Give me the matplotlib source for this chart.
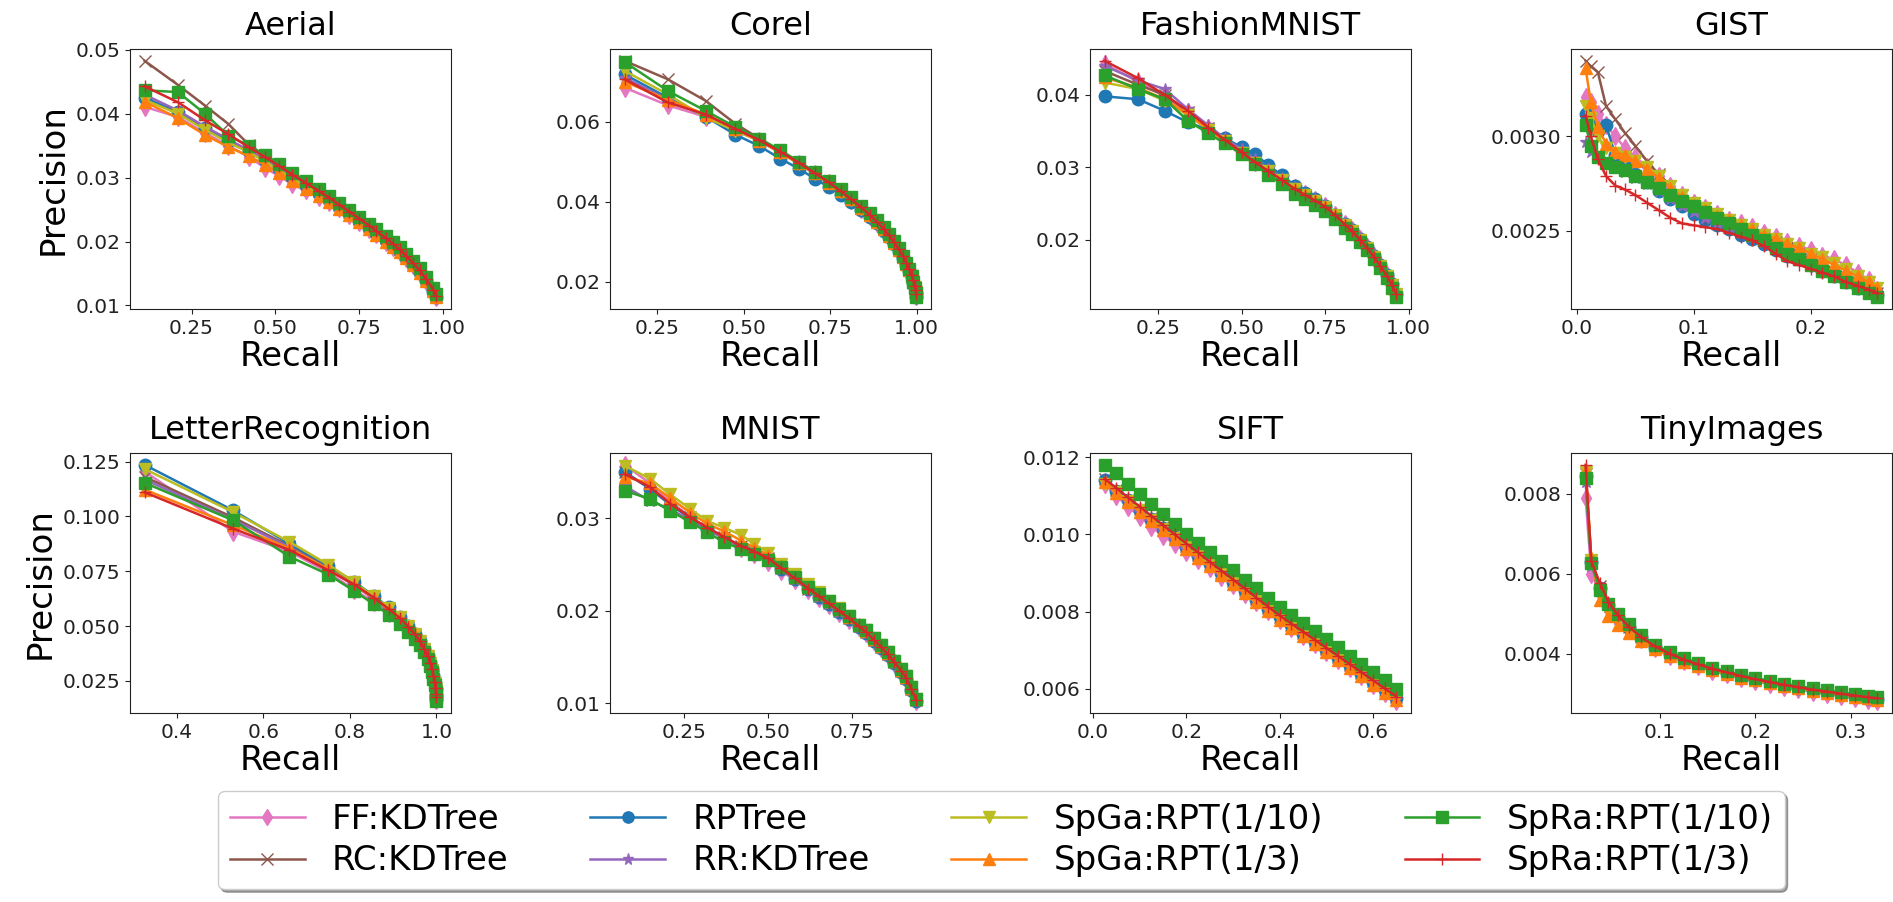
import matplotlib
matplotlib.use('Agg')
import matplotlib.pyplot as plt

plt.rcParams['font.family'] = ['DejaVu Sans']

# ---------------- legend / styling data ----------------
methods = ['FF:KDTree', 'RC:KDTree', 'RPTree', 'RR:KDTree',
           'SpGa:RPT(1/10)', 'SpGa:RPT(1/3)', 'SpRa:RPT(1/10)', 'SpRa:RPT(1/3)']
colors = ['#e377c2', '#8c564b', '#1f77b4', '#9467bd',
          '#bcbd22', '#ff7f0e', '#2ca02c', '#d62728']
markers = ['d', 'x', 'o', '*', 'v', '^', 's', '+']

# ---------------- Aerial ----------------
aerial_recall = [0.11, 0.21, 0.29, 0.36, 0.42, 0.47, 0.51, 0.55, 0.59, 0.63, 0.66, 0.69, 0.72,
                 0.75, 0.78, 0.80, 0.83, 0.85, 0.87, 0.89, 0.91, 0.93, 0.95, 0.97, 0.98]
aerial_ff = [0.0411, 0.0395, 0.0370, 0.0350, 0.0333, 0.0315, 0.0303, 0.0290, 0.0280, 0.0270, 0.0262, 0.0252, 0.0242,
             0.0231, 0.0220, 0.0212, 0.0200, 0.0192, 0.0183, 0.0174, 0.0163, 0.0151, 0.0138, 0.0122, 0.0113]
aerial_rc = [0.0483, 0.0445, 0.0413, 0.0384, 0.0352, 0.0334, 0.0319, 0.0305, 0.0292, 0.0279, 0.0269, 0.0258, 0.0247,
             0.0236, 0.0225, 0.0217, 0.0205, 0.0197, 0.0188, 0.0178, 0.0167, 0.0155, 0.0142, 0.0125, 0.0115]
aerial_rpt = [0.0425, 0.0403, 0.0378, 0.0358, 0.0342, 0.0327, 0.0315, 0.0301, 0.0288, 0.0276, 0.0266, 0.0255, 0.0244,
              0.0233, 0.0222, 0.0214, 0.0202, 0.0194, 0.0185, 0.0176, 0.0165, 0.0153, 0.0140, 0.0123, 0.0114]
aerial_rr = [0.0430, 0.0405, 0.0380, 0.0360, 0.0343, 0.0328, 0.0316, 0.0302, 0.0289, 0.0277, 0.0267, 0.0256, 0.0245,
             0.0234, 0.0223, 0.0215, 0.0203, 0.0195, 0.0186, 0.0177, 0.0165, 0.0153, 0.0140, 0.0124, 0.0114]
aerial_spga10 = [0.0422, 0.0400, 0.0375, 0.0355, 0.0340, 0.0325, 0.0312, 0.0299, 0.0287, 0.0275, 0.0265, 0.0254, 0.0243,
                 0.0232, 0.0221, 0.0213, 0.0201, 0.0193, 0.0184, 0.0175, 0.0164, 0.0152, 0.0139, 0.0123, 0.0113]
aerial_spga3 = [0.0419, 0.0393, 0.0367, 0.0348, 0.0334, 0.0320, 0.0308, 0.0295, 0.0283, 0.0271, 0.0262, 0.0251, 0.0241,
                0.0230, 0.0219, 0.0211, 0.0200, 0.0192, 0.0183, 0.0174, 0.0163, 0.0151, 0.0138, 0.0122, 0.0113]
aerial_spra10 = [0.0437, 0.0434, 0.0400, 0.0366, 0.0350, 0.0335, 0.0322, 0.0308, 0.0295, 0.0282, 0.0272, 0.0261, 0.0250,
                 0.0239, 0.0228, 0.0220, 0.0208, 0.0200, 0.0191, 0.0181, 0.0170, 0.0158, 0.0145, 0.0128, 0.0118]
aerial_spra3 = [0.0443, 0.0418, 0.0390, 0.0368, 0.0348, 0.0332, 0.0319, 0.0305, 0.0292, 0.0279, 0.0269, 0.0258, 0.0247,
                0.0236, 0.0225, 0.0217, 0.0205, 0.0197, 0.0188, 0.0178, 0.0167, 0.0155, 0.0141, 0.0125, 0.0115]

# ---------------- Corel ----------------
corel_recall = [0.155, 0.28, 0.39, 0.475, 0.545, 0.605, 0.66, 0.705, 0.745, 0.78, 0.81, 0.84, 0.865,
                0.885, 0.905, 0.92, 0.935, 0.948, 0.96, 0.97, 0.978, 0.985, 0.99, 0.994, 0.997, 0.999]
corel_ff = [0.0685, 0.0641, 0.0612, 0.0578, 0.0552, 0.0523, 0.0495, 0.0470, 0.0447, 0.0425, 0.0404, 0.0382, 0.0364,
            0.0347, 0.0329, 0.0313, 0.0296, 0.0279, 0.0261, 0.0244, 0.0229, 0.0214, 0.0199, 0.0186, 0.0174, 0.0164]
corel_rc = [0.0752, 0.0706, 0.0652, 0.0595, 0.0558, 0.0526, 0.0497, 0.0472, 0.0449, 0.0427, 0.0406, 0.0384, 0.0366,
            0.0349, 0.0331, 0.0315, 0.0298, 0.0281, 0.0263, 0.0246, 0.0231, 0.0216, 0.0201, 0.0188, 0.0176, 0.0166]
corel_rpt = [0.0718, 0.0660, 0.0612, 0.0568, 0.0539, 0.0508, 0.0482, 0.0458, 0.0437, 0.0418, 0.0400, 0.0380, 0.0362,
             0.0346, 0.0328, 0.0312, 0.0295, 0.0278, 0.0260, 0.0243, 0.0228, 0.0213, 0.0198, 0.0185, 0.0173, 0.0163]
corel_rr = [0.0710, 0.0655, 0.0615, 0.0580, 0.0553, 0.0523, 0.0495, 0.0470, 0.0447, 0.0425, 0.0405, 0.0383, 0.0365,
            0.0348, 0.0330, 0.0314, 0.0297, 0.0280, 0.0262, 0.0245, 0.0230, 0.0215, 0.0200, 0.0187, 0.0175, 0.0165]
corel_spga10 = [0.0727, 0.0668, 0.0610, 0.0578, 0.0552, 0.0523, 0.0495, 0.0470, 0.0447, 0.0425, 0.0405, 0.0383, 0.0365,
                0.0348, 0.0330, 0.0314, 0.0297, 0.0280, 0.0262, 0.0245, 0.0230, 0.0215, 0.0200, 0.0187, 0.0175, 0.0165]
corel_spga3 = [0.0700, 0.0655, 0.0618, 0.0582, 0.0553, 0.0524, 0.0496, 0.0471, 0.0448, 0.0426, 0.0406, 0.0384, 0.0366,
               0.0349, 0.0331, 0.0315, 0.0298, 0.0281, 0.0263, 0.0246, 0.0231, 0.0216, 0.0201, 0.0188, 0.0176, 0.0166]
corel_spra10 = [0.0749, 0.0677, 0.0627, 0.0587, 0.0558, 0.0529, 0.0500, 0.0475, 0.0452, 0.0431, 0.0411, 0.0390, 0.0371,
                0.0354, 0.0336, 0.0319, 0.0302, 0.0284, 0.0266, 0.0248, 0.0232, 0.0216, 0.0200, 0.0186, 0.0173, 0.0162]
corel_spra3 = [0.0706, 0.0648, 0.0618, 0.0582, 0.0554, 0.0525, 0.0497, 0.0472, 0.0449, 0.0427, 0.0407, 0.0386, 0.0367,
               0.0350, 0.0332, 0.0316, 0.0299, 0.0282, 0.0265, 0.0248, 0.0233, 0.0218, 0.0204, 0.0191, 0.0179, 0.0170]

# ---------------- FashionMNIST ----------------
fashion_recall = [0.09, 0.19, 0.27, 0.34, 0.40, 0.45, 0.50, 0.54, 0.58, 0.62, 0.66, 0.69,
                  0.72, 0.75, 0.78, 0.81, 0.83, 0.855, 0.875, 0.895, 0.915, 0.935, 0.95, 0.963]
fashion_ff = [0.0443, 0.0418, 0.0398, 0.0376, 0.0355, 0.0338, 0.0322, 0.0308, 0.0296, 0.0284, 0.0271, 0.0263,
              0.0255, 0.0247, 0.0235, 0.0222, 0.0213, 0.0201, 0.0190, 0.0178, 0.0165, 0.0151, 0.0139, 0.0126]
fashion_rc = [0.0433, 0.0414, 0.0400, 0.0377, 0.0355, 0.0338, 0.0321, 0.0307, 0.0295, 0.0283, 0.0270, 0.0262,
              0.0254, 0.0246, 0.0234, 0.0221, 0.0212, 0.0200, 0.0189, 0.0177, 0.0164, 0.0150, 0.0138, 0.0125]
fashion_rpt = [0.0398, 0.0394, 0.0378, 0.0362, 0.0352, 0.0340, 0.0328, 0.0318, 0.0303, 0.0289, 0.0275, 0.0265,
               0.0256, 0.0247, 0.0235, 0.0222, 0.0213, 0.0201, 0.0190, 0.0178, 0.0165, 0.0151, 0.0139, 0.0126]
fashion_rr = [0.0440, 0.0420, 0.0408, 0.0380, 0.0358, 0.0340, 0.0325, 0.0311, 0.0298, 0.0286, 0.0273, 0.0264,
              0.0256, 0.0248, 0.0236, 0.0223, 0.0214, 0.0202, 0.0191, 0.0179, 0.0166, 0.0152, 0.0140, 0.0127]
fashion_spga10 = [0.0417, 0.0408, 0.0392, 0.0372, 0.0352, 0.0336, 0.0320, 0.0306, 0.0295, 0.0283, 0.0270, 0.0262,
                  0.0254, 0.0246, 0.0234, 0.0221, 0.0212, 0.0200, 0.0189, 0.0177, 0.0164, 0.0150, 0.0138, 0.0125]
fashion_spga3 = [0.0424, 0.0410, 0.0394, 0.0373, 0.0353, 0.0336, 0.0320, 0.0306, 0.0294, 0.0282, 0.0269, 0.0261,
                 0.0253, 0.0245, 0.0233, 0.0220, 0.0211, 0.0199, 0.0188, 0.0176, 0.0163, 0.0149, 0.0137, 0.0124]
fashion_spra10 = [0.0427, 0.0408, 0.0394, 0.0364, 0.0347, 0.0333, 0.0318, 0.0304, 0.0290, 0.0277, 0.0264, 0.0256,
                  0.0248, 0.0240, 0.0229, 0.0217, 0.0208, 0.0197, 0.0186, 0.0174, 0.0161, 0.0147, 0.0134, 0.0121]
fashion_spra3 = [0.0447, 0.0423, 0.0400, 0.0378, 0.0355, 0.0338, 0.0321, 0.0307, 0.0295, 0.0283, 0.0270, 0.0262,
                 0.0254, 0.0246, 0.0234, 0.0221, 0.0212, 0.0200, 0.0189, 0.0177, 0.0164, 0.0150, 0.0138, 0.0125]

# ---------------- GIST ----------------
gist_recall = [0.0075, 0.012, 0.018, 0.025, 0.033, 0.041, 0.05, 0.06, 0.07, 0.08, 0.09, 0.10, 0.11, 0.12,
               0.13, 0.14, 0.15, 0.16, 0.17, 0.18, 0.19, 0.20, 0.21, 0.22, 0.23, 0.24, 0.25, 0.257]
gist_ff = [0.00321, 0.00318, 0.00312, 0.00306, 0.00300, 0.00294, 0.00289, 0.00284, 0.00279, 0.00274, 0.00269, 0.00265,
           0.00262, 0.00259, 0.00256, 0.00254, 0.00252, 0.00249, 0.00247, 0.00244, 0.00242, 0.00240, 0.00237, 0.00235,
           0.00232, 0.00228, 0.00224, 0.00219]
gist_rc = [0.00340, 0.00337, 0.00334, 0.00316, 0.00309, 0.00302, 0.00295, 0.00287, 0.00280, 0.00274, 0.00269, 0.00265,
           0.00262, 0.00259, 0.00256, 0.00253, 0.00250, 0.00247, 0.00244, 0.00241, 0.00238, 0.00235, 0.00232, 0.00229,
           0.00226, 0.00223, 0.00220, 0.00217]
gist_rpt = [0.00312, 0.00306, 0.00303, 0.00306, 0.00290, 0.00285, 0.00280, 0.00276, 0.00271, 0.00267, 0.00263, 0.00259,
            0.00256, 0.00253, 0.00251, 0.00248, 0.00246, 0.00243, 0.00240, 0.00237, 0.00235, 0.00232, 0.00229, 0.00226,
            0.00223, 0.00220, 0.00218, 0.00216]
gist_rr = [0.00297, 0.00292, 0.00289, 0.00286, 0.00284, 0.00281, 0.00278, 0.00275, 0.00271, 0.00267, 0.00263, 0.00260,
           0.00257, 0.00254, 0.00252, 0.00249, 0.00247, 0.00244, 0.00241, 0.00238, 0.00236, 0.00233, 0.00230, 0.00227,
           0.00224, 0.00221, 0.00219, 0.00217]
gist_spga10 = [0.00316, 0.00310, 0.00300, 0.00294, 0.00291, 0.00289, 0.00287, 0.00284, 0.00279, 0.00274, 0.00269, 0.00265,
               0.00262, 0.00259, 0.00256, 0.00253, 0.00251, 0.00248, 0.00246, 0.00243, 0.00241, 0.00238, 0.00236, 0.00233,
               0.00230, 0.00226, 0.00223, 0.00220]
gist_spga3 = [0.00336, 0.00318, 0.00305, 0.00296, 0.00292, 0.00290, 0.00287, 0.00283, 0.00278, 0.00273, 0.00268, 0.00264,
              0.00261, 0.00258, 0.00256, 0.00253, 0.00251, 0.00248, 0.00246, 0.00243, 0.00241, 0.00238, 0.00235, 0.00232,
              0.00229, 0.00226, 0.00223, 0.00220]
gist_spra10 = [0.00306, 0.00295, 0.00289, 0.00286, 0.00284, 0.00282, 0.00279, 0.00276, 0.00273, 0.00269, 0.00266, 0.00263,
               0.00260, 0.00257, 0.00254, 0.00251, 0.00248, 0.00245, 0.00241, 0.00238, 0.00235, 0.00232, 0.00229, 0.00226,
               0.00223, 0.00220, 0.00217, 0.00215]
gist_spra3 = [0.00311, 0.00300, 0.00288, 0.00279, 0.00274, 0.00272, 0.00269, 0.00265, 0.00261, 0.00257, 0.00254, 0.00253,
              0.00252, 0.00251, 0.00249, 0.00247, 0.00245, 0.00242, 0.00238, 0.00234, 0.00232, 0.00230, 0.00228, 0.00226,
              0.00223, 0.00221, 0.00219, 0.00217]

# ---------------- LetterRecognition ----------------
letter_recall = [0.325, 0.53, 0.66, 0.75, 0.81, 0.855, 0.89, 0.915, 0.935, 0.95,
                 0.962, 0.972, 0.98, 0.986, 0.99, 0.993, 0.996, 0.998, 0.999, 1.0]
letter_ff = [0.1205, 0.0930, 0.0840, 0.0745, 0.0665, 0.0610, 0.0562, 0.0525, 0.0487, 0.0453,
             0.0422, 0.0389, 0.0358, 0.0328, 0.0298, 0.0268, 0.0238, 0.0208, 0.0183, 0.0165]
letter_rc = [0.1180, 0.0995, 0.0865, 0.0765, 0.0690, 0.0628, 0.0575, 0.0535, 0.0495, 0.0460,
             0.0428, 0.0393, 0.0362, 0.0332, 0.0301, 0.0271, 0.0241, 0.0211, 0.0186, 0.0166]
letter_rpt = [0.1235, 0.1027, 0.0875, 0.0775, 0.0702, 0.0638, 0.0585, 0.0542, 0.0502, 0.0466,
              0.0433, 0.0397, 0.0365, 0.0334, 0.0303, 0.0273, 0.0243, 0.0213, 0.0188, 0.0168]
letter_rr = [0.1168, 0.0985, 0.0860, 0.0760, 0.0685, 0.0625, 0.0572, 0.0532, 0.0493, 0.0458,
             0.0427, 0.0392, 0.0361, 0.0331, 0.0300, 0.0270, 0.0240, 0.0210, 0.0185, 0.0166]
letter_spga10 = [0.1216, 0.1019, 0.0884, 0.0780, 0.0700, 0.0635, 0.0582, 0.0540, 0.0500, 0.0464,
                 0.0431, 0.0396, 0.0364, 0.0333, 0.0302, 0.0272, 0.0242, 0.0212, 0.0187, 0.0167]
letter_spga3 = [0.1122, 0.0960, 0.0855, 0.0760, 0.0688, 0.0627, 0.0574, 0.0533, 0.0494, 0.0459,
                0.0428, 0.0393, 0.0362, 0.0332, 0.0301, 0.0271, 0.0241, 0.0211, 0.0186, 0.0166]
letter_spra10 = [0.1153, 0.0982, 0.0817, 0.0735, 0.0660, 0.0600, 0.0552, 0.0510, 0.0475, 0.0442,
                 0.0412, 0.0380, 0.0350, 0.0320, 0.0290, 0.0260, 0.0230, 0.0200, 0.0175, 0.0158]
letter_spra3 = [0.1110, 0.0944, 0.0847, 0.0754, 0.0690, 0.0630, 0.0578, 0.0538, 0.0498, 0.0463,
                0.0431, 0.0396, 0.0364, 0.0334, 0.0304, 0.0275, 0.0246, 0.0217, 0.0193, 0.0175]

# ---------------- MNIST ----------------
mnist_recall = [0.075, 0.15, 0.21, 0.27, 0.32, 0.37, 0.42, 0.46, 0.50, 0.54, 0.58, 0.62, 0.65,
                0.68, 0.71, 0.74, 0.77, 0.79, 0.815, 0.835, 0.855, 0.875, 0.895, 0.91, 0.925, 0.94]
mnist_ff = [0.0358, 0.0338, 0.0318, 0.0302, 0.0289, 0.0278, 0.0268, 0.0261, 0.0253, 0.0243, 0.0233, 0.0222, 0.0214,
            0.0206, 0.0198, 0.0190, 0.0182, 0.0176, 0.0167, 0.0160, 0.0152, 0.0143, 0.0134, 0.0126, 0.0114, 0.0102]
mnist_rc = [0.0350, 0.0333, 0.0316, 0.0301, 0.0290, 0.0280, 0.0270, 0.0264, 0.0257, 0.0246, 0.0235, 0.0224, 0.0216,
            0.0208, 0.0200, 0.0192, 0.0183, 0.0177, 0.0168, 0.0161, 0.0153, 0.0144, 0.0135, 0.0127, 0.0115, 0.0103]
mnist_rpt = [0.0350, 0.0332, 0.0315, 0.0300, 0.0289, 0.0279, 0.0269, 0.0263, 0.0256, 0.0245, 0.0234, 0.0223, 0.0215,
             0.0207, 0.0199, 0.0191, 0.0182, 0.0176, 0.0167, 0.0160, 0.0152, 0.0143, 0.0134, 0.0126, 0.0114, 0.0102]
mnist_rr = [0.0335, 0.0319, 0.0310, 0.0298, 0.0288, 0.0278, 0.0269, 0.0263, 0.0256, 0.0245, 0.0234, 0.0223, 0.0215,
            0.0207, 0.0199, 0.0191, 0.0182, 0.0176, 0.0167, 0.0160, 0.0152, 0.0143, 0.0134, 0.0126, 0.0114, 0.0102]
mnist_spga10 = [0.0357, 0.0343, 0.0326, 0.0310, 0.0297, 0.0290, 0.0282, 0.0272, 0.0263, 0.0251, 0.0240, 0.0229, 0.0220,
                0.0211, 0.0203, 0.0194, 0.0185, 0.0179, 0.0170, 0.0163, 0.0155, 0.0146, 0.0137, 0.0129, 0.0117, 0.0104]
mnist_spga3 = [0.0345, 0.0338, 0.0322, 0.0306, 0.0294, 0.0286, 0.0276, 0.0268, 0.0260, 0.0248, 0.0237, 0.0226, 0.0218,
               0.0210, 0.0202, 0.0193, 0.0184, 0.0178, 0.0169, 0.0162, 0.0154, 0.0145, 0.0136, 0.0128, 0.0116, 0.0104]
mnist_spra10 = [0.0330, 0.0321, 0.0308, 0.0296, 0.0285, 0.0274, 0.0267, 0.0261, 0.0255, 0.0247, 0.0237, 0.0226, 0.0218,
                0.0210, 0.0202, 0.0194, 0.0185, 0.0179, 0.0170, 0.0163, 0.0155, 0.0146, 0.0137, 0.0129, 0.0117, 0.0104]
mnist_spra3 = [0.0348, 0.0334, 0.0316, 0.0301, 0.0290, 0.0280, 0.0270, 0.0264, 0.0257, 0.0246, 0.0235, 0.0224, 0.0216,
               0.0208, 0.0200, 0.0192, 0.0183, 0.0177, 0.0168, 0.0161, 0.0153, 0.0144, 0.0135, 0.0127, 0.0115, 0.0103]

# ---------------- SIFT ----------------
sift_recall = [0.025, 0.05, 0.075, 0.10, 0.125, 0.15, 0.175, 0.20, 0.225, 0.25, 0.275, 0.30, 0.325,
               0.35, 0.375, 0.40, 0.425, 0.45, 0.475, 0.50, 0.525, 0.55, 0.575, 0.60, 0.625, 0.65]
sift_ff = [0.01130, 0.01100, 0.01072, 0.01046, 0.01020, 0.00996, 0.00975, 0.00955, 0.00934, 0.00912, 0.00890, 0.00868,
           0.00846, 0.00824, 0.00801, 0.00779, 0.00758, 0.00737, 0.00716, 0.00695, 0.00674, 0.00653, 0.00632, 0.00611,
           0.00590, 0.00568]
sift_rc = [0.01142, 0.01115, 0.01090, 0.01066, 0.01042, 0.01018, 0.00994, 0.00970, 0.00947, 0.00924, 0.00901, 0.00878,
           0.00855, 0.00832, 0.00809, 0.00787, 0.00766, 0.00745, 0.00724, 0.00703, 0.00682, 0.00661, 0.00640, 0.00619,
           0.00598, 0.00578]
sift_rpt = [0.01140, 0.01113, 0.01088, 0.01064, 0.01040, 0.01016, 0.00992, 0.00968, 0.00945, 0.00922, 0.00899, 0.00876,
            0.00853, 0.00830, 0.00807, 0.00785, 0.00764, 0.00743, 0.00722, 0.00701, 0.00680, 0.00659, 0.00638, 0.00617,
            0.00596, 0.00576]
sift_rr = [0.01138, 0.01110, 0.01084, 0.01058, 0.01034, 0.01010, 0.00986, 0.00963, 0.00940, 0.00918, 0.00896, 0.00873,
           0.00850, 0.00827, 0.00805, 0.00783, 0.00762, 0.00741, 0.00720, 0.00699, 0.00678, 0.00657, 0.00636, 0.00615,
           0.00594, 0.00574]
sift_spga10 = [0.01130, 0.01110, 0.01086, 0.01062, 0.01038, 0.01014, 0.00990, 0.00966, 0.00943, 0.00920, 0.00897, 0.00874,
               0.00851, 0.00828, 0.00805, 0.00782, 0.00761, 0.00740, 0.00719, 0.00698, 0.00677, 0.00656, 0.00635, 0.00614,
               0.00593, 0.00573]
sift_spga3 = [0.01135, 0.01108, 0.01083, 0.01059, 0.01035, 0.01011, 0.00987, 0.00963, 0.00940, 0.00917, 0.00894, 0.00871,
              0.00848, 0.00825, 0.00802, 0.00779, 0.00758, 0.00737, 0.00716, 0.00695, 0.00674, 0.00653, 0.00632, 0.00611,
              0.00590, 0.00570]
sift_spra10 = [0.01180, 0.01158, 0.01130, 0.01104, 0.01078, 0.01052, 0.01026, 0.01001, 0.00977, 0.00953, 0.00930, 0.00907,
               0.00883, 0.00860, 0.00836, 0.00813, 0.00791, 0.00770, 0.00749, 0.00728, 0.00707, 0.00686, 0.00665, 0.00643,
               0.00622, 0.00600]
sift_spra3 = [0.01144, 0.01120, 0.01096, 0.01072, 0.01048, 0.01024, 0.01000, 0.00976, 0.00953, 0.00929, 0.00906, 0.00883,
              0.00860, 0.00836, 0.00813, 0.00790, 0.00769, 0.00748, 0.00727, 0.00706, 0.00685, 0.00664, 0.00643, 0.00622,
              0.00601, 0.00580]

# ---------------- TinyImages ----------------
tiny_recall = [0.022, 0.028, 0.037, 0.046, 0.056, 0.067, 0.08, 0.095, 0.11, 0.125, 0.14, 0.155,
               0.17, 0.185, 0.20, 0.215, 0.23, 0.245, 0.26, 0.275, 0.29, 0.305, 0.318, 0.328]
tiny_ff = [0.00790, 0.00600, 0.00555, 0.00515, 0.00485, 0.00460, 0.00436, 0.00413, 0.00395, 0.00381, 0.00368, 0.00357,
           0.00348, 0.00339, 0.00331, 0.00324, 0.00317, 0.00311, 0.00305, 0.00299, 0.00294, 0.00289, 0.00285, 0.00281]
tiny_rc = [0.00850, 0.00635, 0.00570, 0.00525, 0.00494, 0.00467, 0.00441, 0.00417, 0.00399, 0.00384, 0.00372, 0.00361,
           0.00352, 0.00343, 0.00335, 0.00328, 0.00321, 0.00315, 0.00309, 0.00304, 0.00299, 0.00294, 0.00290, 0.00287]
tiny_rpt = [0.00845, 0.00630, 0.00565, 0.00522, 0.00492, 0.00466, 0.00441, 0.00417, 0.00399, 0.00384, 0.00372, 0.00361,
            0.00352, 0.00343, 0.00335, 0.00328, 0.00321, 0.00315, 0.00309, 0.00304, 0.00299, 0.00294, 0.00290, 0.00287]
tiny_rr = [0.00830, 0.00620, 0.00560, 0.00518, 0.00488, 0.00463, 0.00439, 0.00415, 0.00397, 0.00382, 0.00370, 0.00359,
           0.00350, 0.00341, 0.00333, 0.00326, 0.00319, 0.00313, 0.00307, 0.00302, 0.00297, 0.00292, 0.00288, 0.00285]
tiny_spga10 = [0.00855, 0.00635, 0.00545, 0.00505, 0.00480, 0.00458, 0.00436, 0.00414, 0.00396, 0.00382, 0.00370, 0.00359,
               0.00350, 0.00341, 0.00333, 0.00326, 0.00319, 0.00313, 0.00307, 0.00302, 0.00297, 0.00292, 0.00288, 0.00285]
tiny_spga3 = [0.00860, 0.00640, 0.00535, 0.00495, 0.00472, 0.00452, 0.00432, 0.00411, 0.00394, 0.00380, 0.00368, 0.00358,
              0.00349, 0.00340, 0.00333, 0.00326, 0.00319, 0.00313, 0.00307, 0.00302, 0.00297, 0.00292, 0.00288, 0.00284]
tiny_spra10 = [0.00840, 0.00627, 0.00560, 0.00525, 0.00500, 0.00475, 0.00447, 0.00422, 0.00404, 0.00389, 0.00376, 0.00365,
               0.00356, 0.00347, 0.00339, 0.00332, 0.00325, 0.00319, 0.00313, 0.00308, 0.00303, 0.00298, 0.00294, 0.00291]
tiny_spra3 = [0.00873, 0.00631, 0.00577, 0.00530, 0.00496, 0.00468, 0.00442, 0.00418, 0.00400, 0.00385, 0.00373, 0.00362,
              0.00353, 0.00344, 0.00336, 0.00329, 0.00322, 0.00316, 0.00310, 0.00305, 0.00300, 0.00295, 0.00291, 0.00288]

# ---------------- tick values ----------------
aerial_xticks = [0.25, 0.50, 0.75, 1.00]
aerial_yticks = [0.01, 0.02, 0.03, 0.04, 0.05]
corel_xticks = [0.25, 0.50, 0.75, 1.00]
corel_yticks = [0.02, 0.04, 0.06]
fashion_xticks = [0.25, 0.50, 0.75, 1.00]
fashion_yticks = [0.02, 0.03, 0.04]
gist_xticks = [0.0, 0.1, 0.2]
gist_yticks = [0.0025, 0.0030]
letter_xticks = [0.4, 0.6, 0.8, 1.0]
letter_yticks = [0.025, 0.050, 0.075, 0.100, 0.125]
mnist_xticks = [0.25, 0.50, 0.75]
mnist_yticks = [0.01, 0.02, 0.03]
sift_xticks = [0.0, 0.2, 0.4, 0.6]
sift_yticks = [0.006, 0.008, 0.010, 0.012]
tiny_xticks = [0.1, 0.2, 0.3]
tiny_yticks = [0.004, 0.006, 0.008]

panels = [
    ('Aerial', aerial_recall,
     [aerial_ff, aerial_rc, aerial_rpt, aerial_rr, aerial_spga10, aerial_spga3, aerial_spra10, aerial_spra3],
     aerial_xticks, aerial_yticks),
    ('Corel', corel_recall,
     [corel_ff, corel_rc, corel_rpt, corel_rr, corel_spga10, corel_spga3, corel_spra10, corel_spra3],
     corel_xticks, corel_yticks),
    ('FashionMNIST', fashion_recall,
     [fashion_ff, fashion_rc, fashion_rpt, fashion_rr, fashion_spga10, fashion_spga3, fashion_spra10, fashion_spra3],
     fashion_xticks, fashion_yticks),
    ('GIST', gist_recall,
     [gist_ff, gist_rc, gist_rpt, gist_rr, gist_spga10, gist_spga3, gist_spra10, gist_spra3],
     gist_xticks, gist_yticks),
    ('LetterRecognition', letter_recall,
     [letter_ff, letter_rc, letter_rpt, letter_rr, letter_spga10, letter_spga3, letter_spra10, letter_spra3],
     letter_xticks, letter_yticks),
    ('MNIST', mnist_recall,
     [mnist_ff, mnist_rc, mnist_rpt, mnist_rr, mnist_spga10, mnist_spga3, mnist_spra10, mnist_spra3],
     mnist_xticks, mnist_yticks),
    ('SIFT', sift_recall,
     [sift_ff, sift_rc, sift_rpt, sift_rr, sift_spga10, sift_spga3, sift_spra10, sift_spra3],
     sift_xticks, sift_yticks),
    ('TinyImages', tiny_recall,
     [tiny_ff, tiny_rc, tiny_rpt, tiny_rr, tiny_spga10, tiny_spga3, tiny_spra10, tiny_spra3],
     tiny_xticks, tiny_yticks),
]

# ---------------- layout (pixels) ----------------
W, H = 1893, 902
fig = plt.figure(figsize=(W / 100, H / 100), dpi=100)
col_left = [130, 610, 1090, 1571]
ax_w = 321
row_top = [49, 453]
ax_h = 260

for i, (name, recall, series, xt, yt) in enumerate(panels):
    row, col = divmod(i, 4)
    left = col_left[col]
    top = row_top[row]
    ax = fig.add_axes([left / W, (H - top - ax_h) / H, ax_w / W, ax_h / H])
    for prec, lab, c, m in zip(series, methods, colors, markers):
        ax.plot(recall, prec, color=c, marker=m, markersize=9, linewidth=1.8, label=lab)
    ax.set_xticks(xt)
    ax.set_yticks(yt)
    ax.tick_params(labelsize=14.5, colors='#222222')
    ax.set_title(name, fontsize=23, pad=10)
    ax.set_xlabel('Recall', fontsize=24.5, labelpad=2)
    if col == 0:
        ax.set_ylabel('Precision', fontsize=24.5)
    for sp in ax.spines.values():
        sp.set_color('#222222')

handles, labels = fig.axes[0].get_legend_handles_labels()
fig.legend(handles, labels, ncol=4, loc='upper center', bbox_to_anchor=(0.529, 0.123),
           fontsize=24.5, shadow=True, fancybox=True, borderaxespad=0.0,
           borderpad=0.35, labelspacing=0.25, handlelength=2.2, handletextpad=0.8,
           columnspacing=2.4, framealpha=1.0, markerscale=0.9)

fig.savefig('out.png', dpi=100)
